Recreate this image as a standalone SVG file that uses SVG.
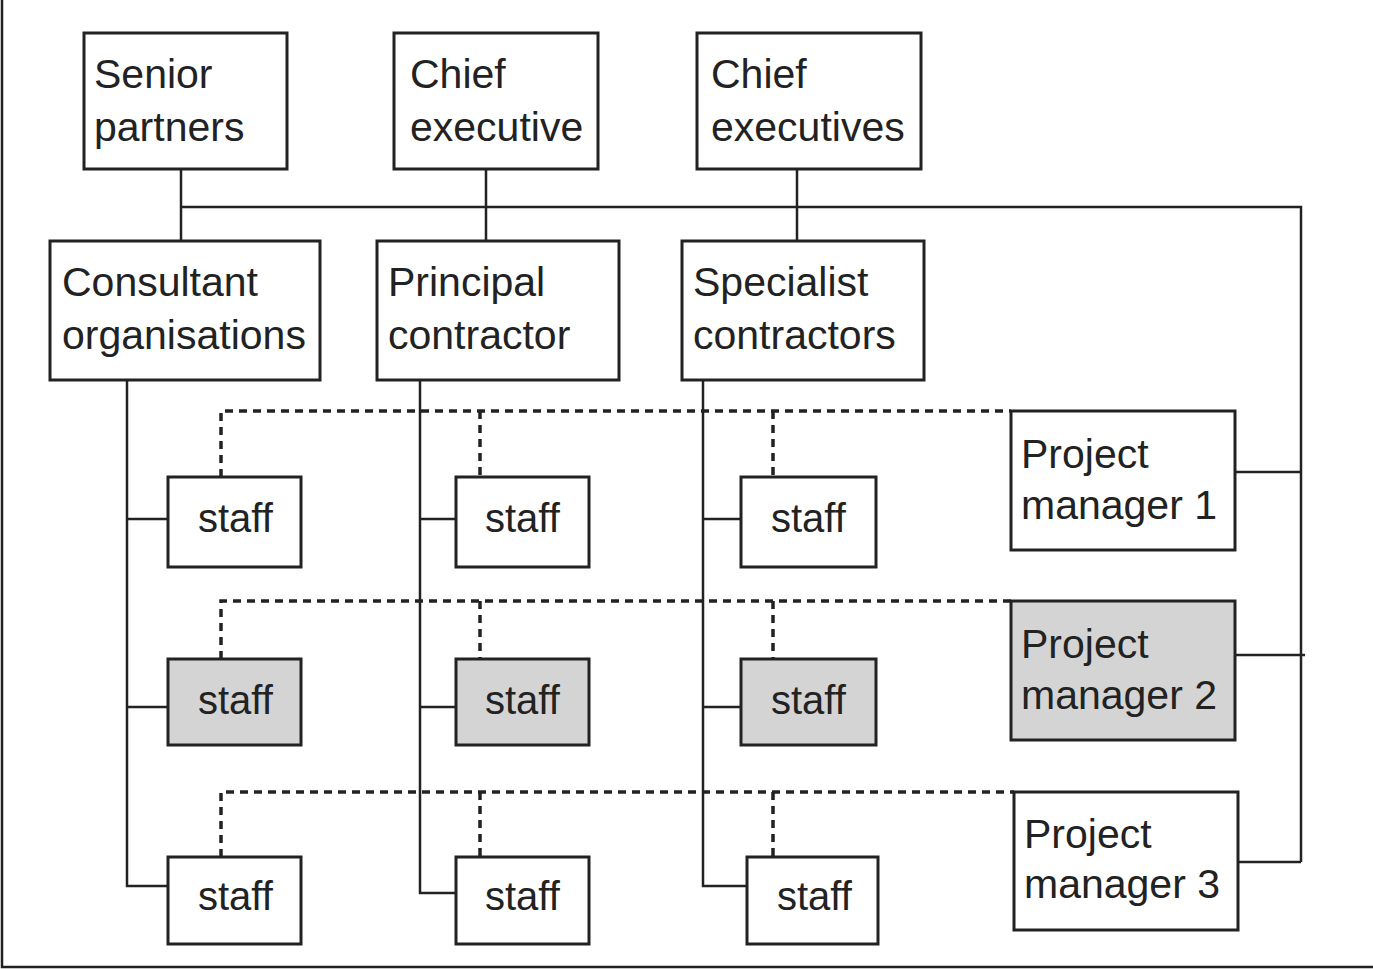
<svg xmlns="http://www.w3.org/2000/svg" width="1373" height="969" viewBox="0 0 1373 969">
<style>
.box{fill:#fff;stroke:#222;stroke-width:3}
.grey{fill:#d4d4d4}
.ln{fill:none;stroke:#222;stroke-width:2.5}
.dash{fill:none;stroke:#222;stroke-width:3.5;stroke-dasharray:8 6}
text{font-family:"Liberation Sans",Arial,sans-serif;font-size:41px;fill:#222}
.s{font-size:40px}
</style>
<rect width="1373" height="969" fill="#fff"/>
<path class="ln" d="M2 0V967H1373" stroke-width="2"/>
<g id="connectors">
<path class="ln" d="M181 169V241M486 169V241M797 169V241M181 207H1301V862"/>
<path class="ln" d="M1235 472H1301M1235 655H1305M1238 862H1301"/>
<path class="ln" d="M127 380V886H168M127 519H168M127 707H168"/>
<path class="ln" d="M420 380V893H456M420 519H456M420 707H456"/>
<path class="ln" d="M703 380V886H747M703 519H741M703 707H741"/>
<path class="dash" d="M221 477V411H1011M480 411V477M773 411V477"/>
<path class="dash" d="M221 659V601H1011M480 601V659M773 601V659"/>
<path class="dash" d="M221 857V792H1014M480 792V857M773 792V857"/>
</g>
<g id="senior-partners"><rect class="box" x="84" y="33" width="203" height="136"/><text x="94" y="88">Senior</text><text x="94" y="141">partners</text></g>
<g id="chief-executive"><rect class="box" x="394" y="33" width="204" height="136"/><text x="410" y="88">Chief</text><text x="410" y="141">executive</text></g>
<g id="chief-executives"><rect class="box" x="697" y="33" width="224" height="136"/><text x="711" y="88">Chief</text><text x="711" y="141">executives</text></g>
<g id="consultant"><rect class="box" x="50" y="241" width="270" height="139"/><text x="62" y="296">Consultant</text><text x="62" y="349">organisations</text></g>
<g id="principal"><rect class="box" x="377" y="241" width="242" height="139"/><text x="388" y="296">Principal</text><text x="388" y="349">contractor</text></g>
<g id="specialist"><rect class="box" x="682" y="241" width="242" height="139"/><text x="693" y="296">Specialist</text><text x="693" y="349">contractors</text></g>
<g id="staff-1a"><rect class="box" x="168" y="477" width="133" height="90"/><text class="s" x="198" y="532">staff</text></g>
<g id="staff-1b"><rect class="box" x="456" y="477" width="133" height="90"/><text class="s" x="485" y="532">staff</text></g>
<g id="staff-1c"><rect class="box" x="741" y="477" width="135" height="90"/><text class="s" x="771" y="532">staff</text></g>
<g id="staff-2a"><rect class="box grey" x="168" y="659" width="133" height="86"/><text class="s" x="198" y="714">staff</text></g>
<g id="staff-2b"><rect class="box grey" x="456" y="659" width="133" height="86"/><text class="s" x="485" y="714">staff</text></g>
<g id="staff-2c"><rect class="box grey" x="741" y="659" width="135" height="86"/><text class="s" x="771" y="714">staff</text></g>
<g id="staff-3a"><rect class="box" x="168" y="857" width="133" height="87"/><text class="s" x="198" y="910">staff</text></g>
<g id="staff-3b"><rect class="box" x="456" y="857" width="133" height="87"/><text class="s" x="485" y="910">staff</text></g>
<g id="staff-3c"><rect class="box" x="747" y="857" width="131" height="87"/><text class="s" x="777" y="910">staff</text></g>
<g id="pm1"><rect class="box" x="1011" y="411" width="224" height="139"/><text x="1021" y="468">Project</text><text x="1021" y="519">manager 1</text></g>
<g id="pm2"><rect class="box grey" x="1011" y="601" width="224" height="139"/><text x="1021" y="658">Project</text><text x="1021" y="709">manager 2</text></g>
<g id="pm3"><rect class="box" x="1014" y="792" width="224" height="138"/><text x="1024" y="848">Project</text><text x="1024" y="898">manager 3</text></g>
</svg>
